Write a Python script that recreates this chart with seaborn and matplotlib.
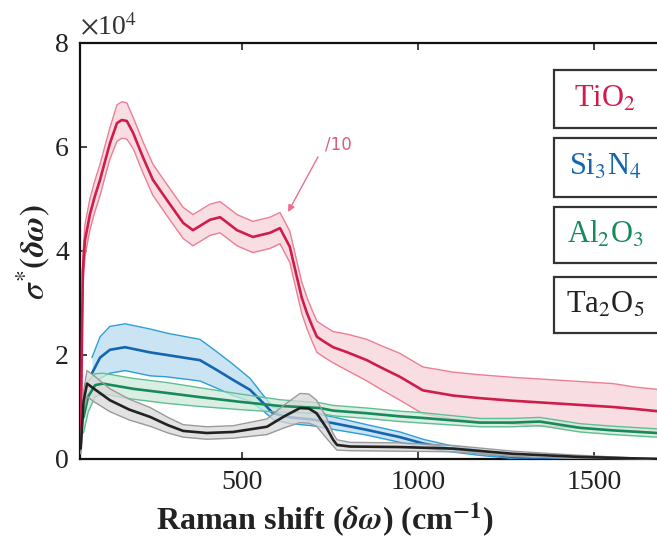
import numpy as np
import pandas as pd
import matplotlib
matplotlib.use("Agg")
import matplotlib.pyplot as plt
from matplotlib.patches import Rectangle
import seaborn as sns

# values in units of 1e4
tio2_x = [42, 45, 48, 54, 68, 82, 97, 112, 125, 145, 159, 173, 191, 219, 247, 287, 333, 361, 409, 438,
          486, 531, 580, 608, 636, 656, 670, 685, 700, 713, 735, 759, 800, 855, 892, 949, 1014, 1100, 1176, 1270,
          1366, 1460, 1554, 1620, 1679]
tio2_y = [0.2, 2.0, 3.6, 4.2, 4.7, 5.05, 5.37, 5.75, 6.07, 6.46, 6.52, 6.5, 6.27, 5.8, 5.37, 4.98, 4.54, 4.4, 4.6, 4.65,
          4.4, 4.27, 4.35, 4.44, 4.08, 3.5, 3.1, 2.8, 2.55, 2.35, 2.25, 2.15, 2.05, 1.9, 1.77, 1.58, 1.32, 1.22, 1.17, 1.12,
          1.08, 1.04, 1.0, 0.96, 0.92]
tio2_err = [0.1, 0.2, 0.3, 0.3, 0.3, 0.3, 0.3, 0.3, 0.3, 0.35, 0.35, 0.35, 0.3, 0.3, 0.3, 0.3, 0.3, 0.3, 0.3, 0.3,
            0.3, 0.3, 0.3, 0.3, 0.3, 0.3, 0.3, 0.3, 0.3, 0.3, 0.3, 0.3, 0.35, 0.4, 0.42, 0.45, 0.45, 0.45, 0.45, 0.45,
            0.45, 0.45, 0.45, 0.42, 0.42]

si3n4_x = [74, 97, 125, 168, 239, 287, 381, 429, 475, 523, 560, 588, 636, 700, 759, 855, 949, 1014, 1091, 1176,
           1270, 1346, 1500, 1679]
si3n4_y = [1.65, 1.95, 2.1, 2.15, 2.05, 2.0, 1.9, 1.71, 1.52, 1.33, 1.08, 0.88, 0.8, 0.76, 0.69, 0.56, 0.42, 0.3, 0.2, 0.12,
           0.04, 0.0, 0.0, 0.0]
si3n4_err = [0.3, 0.4, 0.45, 0.45, 0.45, 0.42, 0.4, 0.35, 0.3, 0.22, 0.15, 0.12, 0.12, 0.12, 0.12, 0.1, 0.1, 0.08, 0.06, 0.05,
             0.03, 0.0, 0.0, 0.0]

al2o3_x = [50, 63, 83, 105, 191, 287, 381, 494, 608, 722, 759, 855, 949, 1014, 1176, 1270, 1346, 1460, 1554, 1679]
al2o3_y = [0.8, 1.2, 1.42, 1.45, 1.35, 1.27, 1.19, 1.1, 1.02, 0.98, 0.93, 0.88, 0.82, 0.79, 0.7, 0.7, 0.72, 0.6, 0.55, 0.5]
al2o3_err = [0.3, 0.3, 0.22, 0.2, 0.2, 0.2, 0.18, 0.15, 0.12, 0.1, 0.1, 0.1, 0.1, 0.1, 0.08, 0.08, 0.08, 0.08, 0.08, 0.08]

ta2o5_x = [42, 50, 60, 80, 125, 180, 239, 290, 333, 400, 475, 571, 620, 665, 690, 712, 740, 759, 770, 807,
           949, 1100, 1270, 1460, 1679]
ta2o5_y = [0.2, 1.1, 1.45, 1.35, 1.13, 0.95, 0.81, 0.65, 0.54, 0.5, 0.52, 0.62, 0.82, 0.98, 0.97, 0.88, 0.6, 0.37, 0.27, 0.24,
           0.23, 0.2, 0.1, 0.04, 0.0]
ta2o5_err = [0.1, 0.2, 0.25, 0.25, 0.22, 0.2, 0.18, 0.15, 0.12, 0.12, 0.12, 0.15, 0.22, 0.28, 0.28, 0.25, 0.2, 0.12, 0.1, 0.08,
             0.08, 0.06, 0.05, 0.03, 0.0]

labels = ['TiO$_2$', 'Si$_3$N$_4$', 'Al$_2$O$_3$', 'Ta$_2$O$_5$']
line_colors = ['#d01c4b', '#1565b0', '#178a5a', '#222222']
fill_colors = ['#f6d3da', '#b9dcf0', '#cfe9dc', '#d9d9d9']
edge_colors = ['#ec7d95', '#2a9fd8', '#5fbf92', '#9a9a9a']

series = [(tio2_x, tio2_y, tio2_err), (si3n4_x, si3n4_y, si3n4_err),
          (al2o3_x, al2o3_y, al2o3_err), (ta2o5_x, ta2o5_y, ta2o5_err)]

sns.set_style('ticks')
plt.rcParams['font.family'] = ['Liberation Serif', 'DejaVu Serif']
plt.rcParams['mathtext.fontset'] = 'stix'

fig = plt.figure(figsize=(6.57, 5.51), dpi=100)
ax = fig.add_axes([80 / 657, 1 - 459 / 551, 577 / 657, 416 / 551])

for i, (xs, ys, es) in enumerate(series):
    d = pd.DataFrame({'x': xs, 'y': ys, 'e': es})
    d['lo'] = (d['y'] - d['e']).clip(lower=0)
    d['hi'] = d['y'] + d['e']
    ax.fill_between(d['x'], d['lo'], d['hi'], color=fill_colors[i], alpha=0.75, lw=0, zorder=1 + i)
    sns.lineplot(data=d, x='x', y='hi', ax=ax, color=edge_colors[i], lw=1.0, zorder=2 + i)
    sns.lineplot(data=d, x='x', y='lo', ax=ax, color=edge_colors[i], lw=1.0, zorder=2 + i)
    sns.lineplot(data=d, x='x', y='y', ax=ax, color=line_colors[i], lw=1.9, zorder=3 + i)

ax.set_xlim(40, 1679)
ax.set_ylim(0, 8)
ax.set_xticks([500, 1000, 1500])
ax.set_yticks([0, 2, 4, 6, 8])
ax.tick_params(direction='in', top=True, right=False, length=5, width=1.2,
               labelsize=20, colors='#222222', pad=8)
for s in ['left', 'bottom', 'top']:
    ax.spines[s].set_linewidth(1.6)
    ax.spines[s].set_color('#111111')
ax.spines['right'].set_visible(False)

ax.set_xlabel(r'Raman shift ($\boldsymbol{\delta\omega}$) (cm$^{\mathbf{-1}}$)', fontsize=23,
              fontweight='bold', color='#222222')
ax.xaxis.set_label_coords((325 - 80) / 577, -(520 - 459) / 416)
ax.xaxis.label.set_va('center')
ax.set_ylabel(r'$\boldsymbol{\sigma^{*}(\delta\omega)}$', fontsize=24, color='#222222')
ax.yaxis.set_label_coords(-(80 - 33) / 577, (459 - 252) / 416)
ax.yaxis.label.set_va('center')
ax.text(0.0, 1.005, r'$\times$10$^4$', transform=ax.transAxes, fontsize=20,
        color='#333333', ha='left', va='bottom')

# "/10" annotation
ax.text(773, 6.04, '/10', fontsize=12, color='#d9607e', ha='center', va='center',
        family='DejaVu Sans')
ax.annotate('', xy=(631, 4.75), xytext=(716, 5.81),
            arrowprops=dict(arrowstyle='-|>', color='#e8708a', lw=1.0, shrinkA=0, shrinkB=0,
                            mutation_scale=10))

# legend boxes
box_rows = [(70, 128), (138, 197), (207, 263), (277, 333)]
for i, (y0, y1) in enumerate(box_rows):
    x0 = 554
    rect = Rectangle((x0 / 657, 1 - y1 / 551), (660 - x0) / 657, (y1 - y0) / 551,
                     transform=fig.transFigure, fill=True, facecolor='white',
                     edgecolor='#333333', lw=1.6, zorder=10)
    fig.patches.append(rect)
    fig.text(605 / 657, 1 - (y0 + y1) / 2 / 551, labels[i], fontsize=22,
             color=line_colors[i], ha='center', va='center', zorder=11)

fig.savefig('out.png', dpi=100)
